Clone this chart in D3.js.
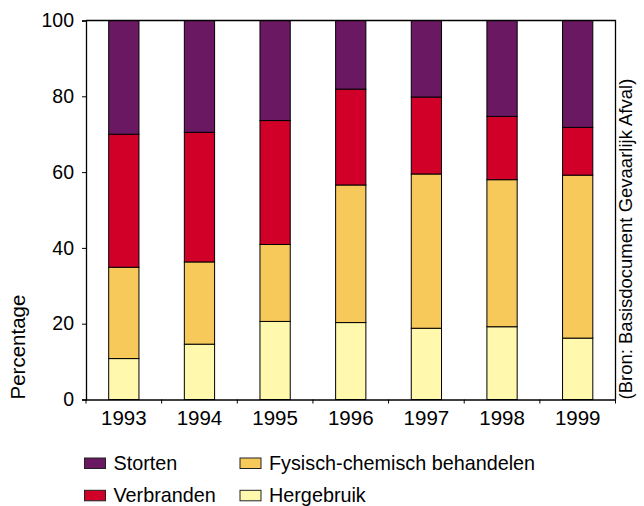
<!DOCTYPE html>
<html>
<head>
<meta charset="utf-8">
<script src="https://cdn.jsdelivr.net/npm/d3@7/dist/d3.min.js"></script>
<style>
  html, body { margin: 0; padding: 0; background: #fff; }
  svg { display: block; font-family: "Liberation Sans", Arial, sans-serif; }
</style>
</head>
<body>
<svg id="chart" width="644" height="506"></svg>
<script>
// Verwerking van gevaarlijk afval, aandeel per verwerkingswijze (%)
const years = ["1993", "1994", "1995", "1996", "1997", "1998", "1999"];
const hergebruik = [10.8, 14.6, 20.6, 20.3, 18.8, 19.2, 16.2];
const fysischChemisch = [24.1, 21.7, 20.3, 36.3, 40.7, 38.8, 43.0];
const verbranden = [35.1, 34.2, 32.7, 25.3, 20.3, 16.7, 12.6];
const storten = [30.0, 29.5, 26.4, 18.1, 20.2, 25.3, 28.2];
const yTicks = [0, 20, 40, 60, 80, 100];

const seriesNames = ["Hergebruik", "Fysisch-chemisch behandelen", "Verbranden", "Storten"];
const seriesValues = [hergebruik, fysischChemisch, verbranden, storten];
const colors = {
  "Storten": "#6b1862",
  "Verbranden": "#d10029",
  "Fysisch-chemisch behandelen": "#f7c95b",
  "Hergebruik": "#fff8ad"
};

const rows = years.map((yr, i) => {
  const r = { year: yr };
  seriesNames.forEach((s, k) => { r[s] = seriesValues[k][i]; });
  return r;
});

const svg = d3.select("#chart");
const plotLeft = 86, plotRight = 615.5, plotTop = 20.5, plotBottom = 399.5;

const x = d3.scaleBand().domain(years).range([plotLeft, plotRight])
  .paddingInner(0.6).paddingOuter(0.3);
const y = d3.scaleLinear().domain([0, 100]).range([plotBottom, plotTop]);

const stacked = d3.stack().keys(seriesNames)(rows);

// bars
svg.append("g").selectAll("g")
  .data(stacked)
  .join("g")
  .attr("fill", d => colors[d.key])
  .selectAll("rect")
  .data(d => d)
  .join("rect")
  .attr("x", d => x(d.data.year))
  .attr("width", x.bandwidth())
  .attr("y", d => y(d[1]))
  .attr("height", d => y(d[0]) - y(d[1]))
  .attr("stroke", "#000")
  .attr("stroke-width", 1);

// plot frame (top and right)
svg.append("path")
  .attr("d", `M${plotLeft},${plotTop}H${plotRight}V${plotBottom}`)
  .attr("fill", "none")
  .attr("stroke", "#000")
  .attr("stroke-width", 1.3);

// y axis
const yAxis = svg.append("g")
  .attr("transform", `translate(${plotLeft},0)`)
  .call(d3.axisLeft(y).tickValues(yTicks).tickSize(4).tickPadding(8));
yAxis.select(".domain").attr("stroke", "#000").attr("stroke-width", 1.3);
yAxis.selectAll(".tick line").attr("stroke", "#000");
yAxis.selectAll("text")
  .attr("font-size", 19.5)
  .attr("fill", "#000")
  .attr("font-family", "Liberation Sans, Arial, sans-serif");

// x axis: labels at category centres, tick marks at category boundaries
const xAxis = svg.append("g")
  .attr("transform", `translate(0,${plotBottom})`)
  .call(d3.axisBottom(x).tickSize(0).tickPadding(10.5));
xAxis.select(".domain").attr("stroke", "#000").attr("stroke-width", 1.3);
xAxis.selectAll("text")
  .attr("font-size", 20.5)
  .attr("fill", "#000")
  .attr("font-family", "Liberation Sans, Arial, sans-serif");

const step = x.step();
const boundaries = years.map(d => x(d) - (step - x.bandwidth()) / 2).concat([plotRight]);
svg.append("g").selectAll("line")
  .data(boundaries)
  .join("line")
  .attr("x1", d => d).attr("x2", d => d)
  .attr("y1", plotBottom).attr("y2", plotBottom + 4)
  .attr("stroke", "#000");

// axis title
svg.append("text")
  .attr("transform", `translate(25,${plotBottom}) rotate(-90)`)
  .attr("text-anchor", "start")
  .attr("font-size", 20.5)
  .attr("fill", "#000")
  .text("Percentage");

// source note
svg.append("text")
  .attr("transform", `translate(632,${plotBottom}) rotate(-90)`)
  .attr("text-anchor", "start")
  .attr("font-size", 18.5)
  .attr("fill", "#000")
  .text("(Bron: Basisdocument Gevaarlijk Afval)");

// legend
const legendItems = [
  { name: "Storten", col: 0, row: 0 },
  { name: "Verbranden", col: 0, row: 1 },
  { name: "Fysisch-chemisch behandelen", col: 1, row: 0 },
  { name: "Hergebruik", col: 1, row: 1 }
];
const colX = [84.5, 240];
const rowY = [458, 490.3];
const lg = svg.append("g").selectAll("g")
  .data(legendItems)
  .join("g")
  .attr("transform", d => `translate(${colX[d.col]},${rowY[d.row]})`);
lg.append("rect")
  .attr("width", 21).attr("height", 10.5)
  .attr("fill", d => colors[d.name])
  .attr("stroke", "#222")
  .attr("stroke-width", 1);
lg.append("text")
  .attr("x", 29).attr("y", 11.5)
  .attr("font-size", 19.8)
  .attr("fill", "#000")
  .text(d => d.name);
</script>
</body>
</html>
